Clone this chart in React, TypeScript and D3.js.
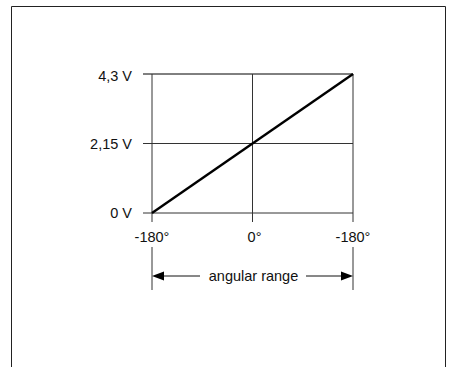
import React from 'react';
import * as d3 from 'd3';

// chart values
const angles = [-180, 180];
const volts = [0, 4.3];
const xTicks = [-180, 0, 180];
const xTickLabels = ['-180°', '0°', '-180°'];
const yTicks = [0, 2.15, 4.3];
const yTickLabels = ['0 V', '2,15 V', '4,3 V'];
const rangeLabel = 'angular range';

const W = 450;
const H = 367;

const App = () => {
  const x = d3.scaleLinear().domain([-180, 180]).range([152, 353]);
  const y = d3.scaleLinear().domain([0, 4.3]).range([213, 74]);

  const line = d3.line<number>()
    .x((d, i) => x(angles[i]))
    .y(d => y(d));

  const font = '"Liberation Sans", Arial, sans-serif';
  const fs = 14.5;
  const tickOut = 9;
  const dimTop = 247;
  const dimBottom = 290;
  const arrowY = 276;
  const [x0, x1] = x.range();
  const xMid = (x0 + x1) / 2;

  return (
    <svg width={W} height={H} style={{ position: 'absolute', left: 0, top: 0 }} fontFamily={font}>
      <rect x={0} y={0} width={W} height={H} fill="#fff" />
      {/* frame, open at the bottom */}
      <path d={`M11.5,${H + 2} V6.5 H445.5 V${H + 2}`} fill="none" stroke="#222" strokeWidth={1} />

      {/* horizontal grid lines with ticks to the left */}
      {yTicks.map((t, i) => (
        <g key={'y' + i}>
          <line x1={x0 - tickOut} x2={x1} y1={y(t)} y2={y(t)} stroke={i === yTicks.length - 1 ? '#000' : '#333'} strokeWidth={1} />
          <text x={132} y={y(t)} dy={i === yTicks.length - 1 ? '0.5em' : '0.35em'} textAnchor="end" fontSize={fs} fill="#111">
            {yTickLabels[i]}
          </text>
        </g>
      ))}

      {/* vertical grid lines with ticks below */}
      {xTicks.map((t, i) => (
        <g key={'x' + i}>
          <line x1={x(t)} x2={x(t)} y1={y(4.3)} y2={y(0) + tickOut} stroke="#333" strokeWidth={1} />
          <text x={x(t) + (i === 1 ? 2 : 0)} y={241.5} textAnchor="middle" fontSize={fs} fill="#111">
            {xTickLabels[i]}
          </text>
        </g>
      ))}

      {/* transfer line */}
      <path d={line(volts) || ''} fill="none" stroke="#000" strokeWidth={2.4} />

      {/* angular range dimension */}
      <line x1={x0} x2={x0} y1={dimTop} y2={dimBottom} stroke="#333" strokeWidth={1} />
      <line x1={x1} x2={x1} y1={dimTop} y2={dimBottom} stroke="#333" strokeWidth={1} />
      <line x1={x0 + 6} x2={200} y1={arrowY} y2={arrowY} stroke="#111" strokeWidth={1} />
      <line x1={306} x2={x1 - 6} y1={arrowY} y2={arrowY} stroke="#111" strokeWidth={1} />
      <path d={`M${x0},${arrowY} L${x0 + 12},${arrowY - 4.5} L${x0 + 12},${arrowY + 4.5} Z`} fill="#000" />
      <path d={`M${x1},${arrowY} L${x1 - 12},${arrowY - 4.5} L${x1 - 12},${arrowY + 4.5} Z`} fill="#000" />
      <text x={xMid + 1} y={281} textAnchor="middle" fontSize={fs} fill="#111">
        {rangeLabel}
      </text>
    </svg>
  );
};

export default App;
